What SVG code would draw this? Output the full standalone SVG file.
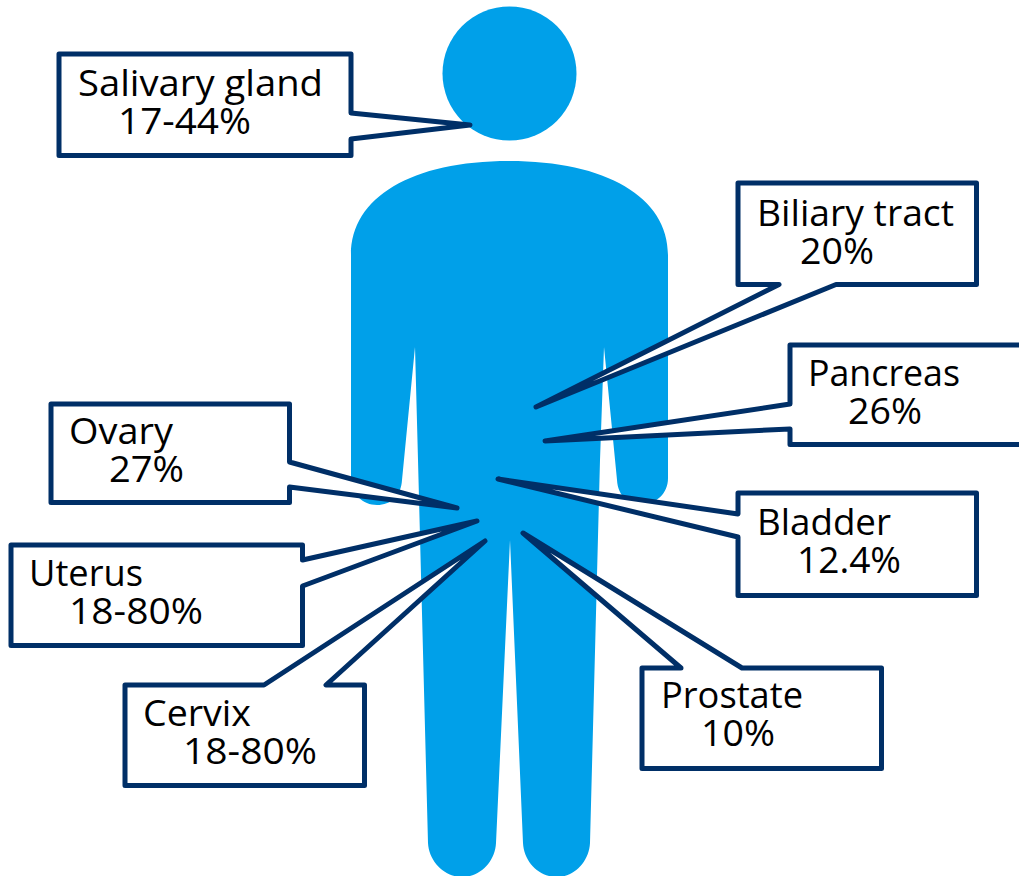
<svg xmlns="http://www.w3.org/2000/svg" width="1019" height="876" viewBox="0 0 1019 876">
<style>
.fig{fill:#00a0e9}
.co{fill:#fff;stroke:#002f67;stroke-width:5;stroke-linejoin:round}
text{font-family:"Open Sans","Noto Sans","DejaVu Sans",sans-serif;font-size:36px;fill:#000}
</style>
<rect width="1019" height="876" fill="#fff"/>
<g id="figure">
<circle class="fig" cx="509.500" cy="73.500" r="67"/>
<path class="fig" d="M351 255C351 197 412 161 509 161C606 161 668 197 668 255V478C668 494 656 504 642 504C628 504 618 496 617 480L604 347L600 460L590 843C589 862 574 877 557 877C539 877 524 862 523 843L510 540L496 843C495 862 480 877 462 877C445 877 429 862 428 843L418 460L415 347L402 480C401 496 391 505 377 505C363 505 351 494 351 478Z"/>
</g>
<g id="connectors"></g>
<g id="salivary"><path class="co" d="M59 54H351V113L470 125L351 139V155.500H59Z"/><text><tspan x="78" y="96" textLength="245" lengthAdjust="spacingAndGlyphs">Salivary gland</tspan><tspan x="118" y="134" textLength="133" lengthAdjust="spacingAndGlyphs">17-44%</tspan></text></g>
<g id="biliary"><path class="co" d="M738 183H976.500V284.500H836L536 407L779 284.500H738Z"/><text><tspan x="757" y="226" textLength="197" lengthAdjust="spacingAndGlyphs">Biliary tract</tspan><tspan x="800" y="264" textLength="74" lengthAdjust="spacingAndGlyphs">20%</tspan></text></g>
<g id="pancreas"><path class="co" d="M790 345H1025V444.500H790V429L545 441L790 404Z"/><text><tspan x="808" y="386" textLength="152" lengthAdjust="spacingAndGlyphs">Pancreas</tspan><tspan x="848" y="424" textLength="74" lengthAdjust="spacingAndGlyphs">26%</tspan></text></g>
<g id="bladder"><path class="co" d="M738 493H976.500V595.500H738V537L498 479L738 514Z"/><text><tspan x="757" y="535" textLength="134" lengthAdjust="spacingAndGlyphs">Bladder</tspan><tspan x="797" y="573" textLength="104" lengthAdjust="spacingAndGlyphs">12.4%</tspan></text></g>
<g id="prostate"><path class="co" d="M642 668H681L523 533L742 668H881.500V768.500H642Z"/><text><tspan x="661" y="708" textLength="142" lengthAdjust="spacingAndGlyphs">Prostate</tspan><tspan x="701" y="746" textLength="74" lengthAdjust="spacingAndGlyphs">10%</tspan></text></g>
<g id="cervix"><path class="co" d="M125 685H264L485 541L326 685H364.500V785.500H125Z"/><text><tspan x="143" y="726" textLength="108" lengthAdjust="spacingAndGlyphs">Cervix</tspan><tspan x="183" y="764" textLength="134" lengthAdjust="spacingAndGlyphs">18-80%</tspan></text></g>
<g id="uterus"><path class="co" d="M11 545H302.500V560L477 521L302.500 586V645.500H11Z"/><text><tspan x="29" y="586" textLength="114" lengthAdjust="spacingAndGlyphs">Uterus</tspan><tspan x="69" y="624" textLength="134" lengthAdjust="spacingAndGlyphs">18-80%</tspan></text></g>
<g id="ovary"><path class="co" d="M51 404H289.500V462L457 508L289.500 487V502.500H51Z"/><text><tspan x="69" y="444" textLength="104" lengthAdjust="spacingAndGlyphs">Ovary</tspan><tspan x="109" y="482" textLength="75" lengthAdjust="spacingAndGlyphs">27%</tspan></text></g>
</svg>
